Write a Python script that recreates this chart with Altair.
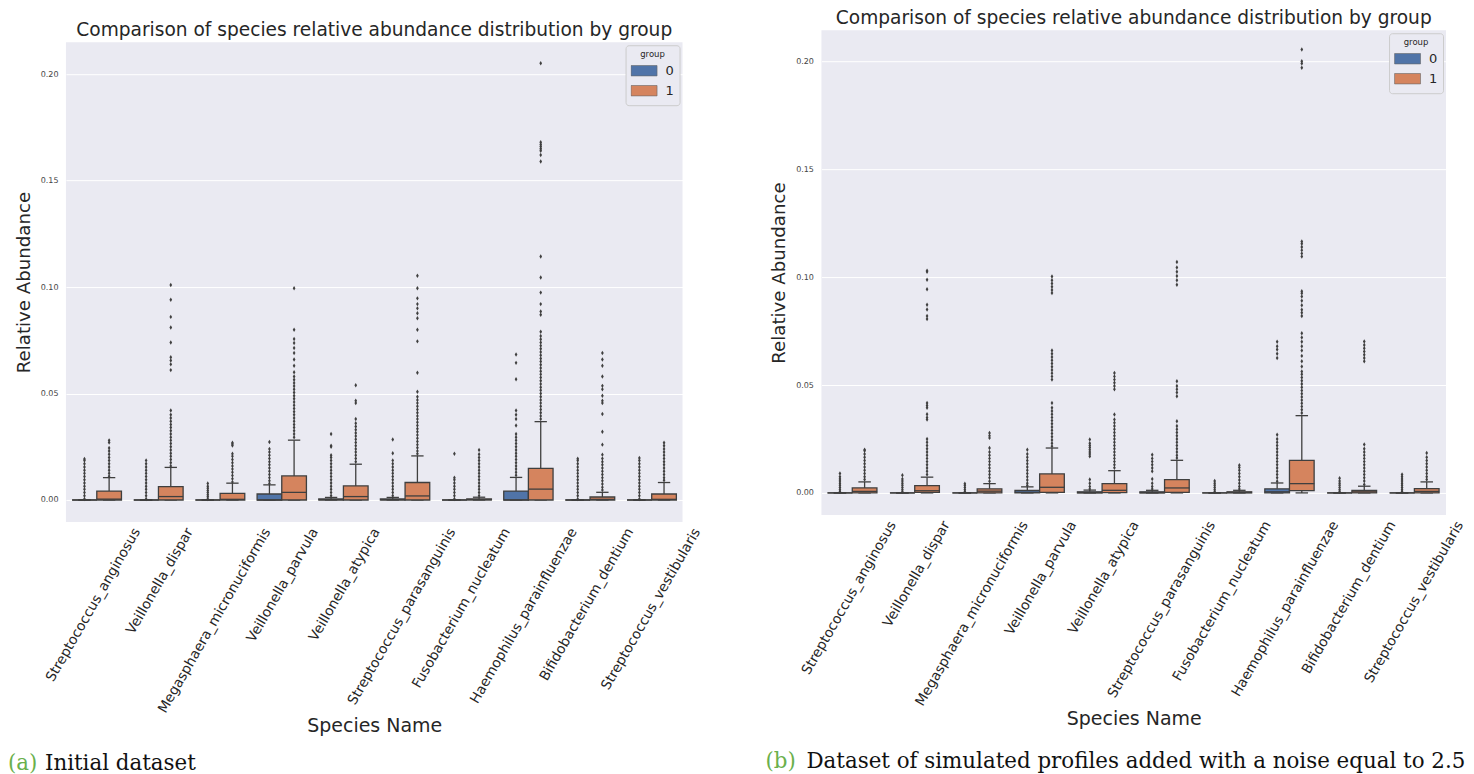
import altair as alt
import pandas as pd

SPECIES = ["Streptococcus_anginosus", "Veillonella_dispar", "Megasphaera_micronuciformis",
           "Veillonella_parvula", "Veillonella_atypica", "Streptococcus_parasanguinis",
           "Fusobacterium_nucleatum", "Haemophilus_parainfluenzae", "Bifidobacterium_dentium",
           "Streptococcus_vestibularis"]
GROUPS = ["0", "1"]
BOX_COLORS = ["#5074A8", "#D5845E"]
TITLE = "Comparison of species relative abundance distribution by group"
CAPTION_TAGS = ["(a)", "(b)"]
CAPTION_TEXTS = ["Initial dataset", "Dataset of simulated profiles added with a noise equal to 2.5"]
Y_TICKS = [0.0, 0.05, 0.10, 0.15, 0.20]

# ---------------- Panel (a): initial dataset ----------------
A0_Q1 = [0, 0, 0, 0, 0, 0, 0, 0, 0, 0]
A0_MED = [0, 0, 0, 0, 0.0001, 0.0001, 0, 0, 0, 0]
A0_Q3 = [0, 0, 0, 0.0028, 0.0005, 0.0005, 0, 0.0042, 0, 0]
A0_LO = [0, 0, 0, 0, 0, 0, 0, 0, 0, 0]
A0_HI = [0, 0, 0, 0.0071, 0.0012, 0.0012, 0, 0.0106, 0, 0]
A1_Q1 = [0, 0, 0, 0, 0, 0, 0, 0, 0, 0]
A1_MED = [0.0004, 0.0016, 0.0003, 0.0036, 0.0016, 0.0019, 0.0002, 0.0051, 0.0003, 0.0003]
A1_Q3 = [0.0042, 0.0063, 0.0031, 0.0113, 0.0066, 0.0082, 0.0005, 0.0148, 0.0014, 0.0028]
A1_LO = [0, 0, 0, 0, 0, 0, 0, 0, 0, 0]
A1_HI = [0.0105, 0.0153, 0.0079, 0.0281, 0.0168, 0.0207, 0.0013, 0.0368, 0.0036, 0.0082]

A0_OUT = [
    [0.0005, 0.002, 0.0035, 0.005, 0.0065, 0.008, 0.0095, 0.011, 0.0125, 0.014, 0.0155, 0.017, 0.0185, 0.0193],
    [0.0005, 0.002, 0.0035, 0.005, 0.0065, 0.008, 0.0095, 0.011, 0.0125, 0.014, 0.0155, 0.017, 0.0186],
    [0.0005, 0.0015, 0.0025, 0.0035, 0.0045, 0.0055, 0.0065, 0.0078],
    [0.0078, 0.009, 0.0105, 0.012, 0.0135, 0.015, 0.0165, 0.018, 0.0195, 0.021, 0.0225, 0.024, 0.0272],
    [0.002, 0.0035, 0.005, 0.0065, 0.008, 0.0095, 0.011, 0.0125, 0.014, 0.0155, 0.017, 0.0185, 0.02, 0.021,
     0.025, 0.0255, 0.031],
    [0.002, 0.0035, 0.005, 0.0065, 0.008, 0.0095, 0.011, 0.0125, 0.014, 0.0155, 0.017, 0.0186, 0.022, 0.0284],
    [0.0005, 0.002, 0.0035, 0.005, 0.0065, 0.008, 0.0095, 0.0105, 0.0217],
    [0.0116, 0.013, 0.0145, 0.016, 0.0175, 0.019, 0.0205, 0.022, 0.0235, 0.025, 0.0265, 0.028, 0.0295, 0.031,
     0.035, 0.038, 0.040, 0.042, 0.0567, 0.0644, 0.0683],
    [0.0005, 0.002, 0.0035, 0.005, 0.0065, 0.008, 0.0095, 0.011, 0.0125, 0.014, 0.0155, 0.017, 0.0185, 0.0194],
    [0.0005, 0.002, 0.0035, 0.005, 0.0065, 0.008, 0.0095, 0.011, 0.0125, 0.014, 0.0155, 0.017, 0.0185, 0.0197],
]
A1_OUT = [
    [0.0112, 0.0125, 0.014, 0.0155, 0.017, 0.0185, 0.02, 0.0215, 0.023, 0.0244, 0.027, 0.028],
    [0.016, 0.0175, 0.019, 0.0205, 0.022, 0.0235, 0.025, 0.0265, 0.028, 0.0295, 0.031, 0.0325, 0.034, 0.0355,
     0.037, 0.0385, 0.04, 0.042, 0.061, 0.0637, 0.0655, 0.067, 0.074, 0.081, 0.086, 0.094, 0.101],
    [0.0085, 0.01, 0.0115, 0.013, 0.0145, 0.016, 0.0175, 0.019, 0.0205, 0.0217, 0.0256, 0.0263, 0.0269],
    [0.0295, 0.031, 0.0325, 0.034, 0.0355, 0.037, 0.0385, 0.04, 0.0415, 0.043, 0.0445, 0.046, 0.0475, 0.049,
     0.0505, 0.052, 0.0535, 0.055, 0.0565, 0.058, 0.060, 0.063, 0.066, 0.069, 0.0714, 0.0737, 0.0756, 0.080,
     0.0995],
    [0.018, 0.0195, 0.021, 0.0225, 0.024, 0.0255, 0.027, 0.0285, 0.03, 0.0315, 0.033, 0.0345, 0.036, 0.038,
     0.0455, 0.0466, 0.0539],
    [0.0217, 0.023, 0.0245, 0.026, 0.0275, 0.029, 0.0305, 0.032, 0.0335, 0.035, 0.0365, 0.038, 0.0395, 0.041,
     0.0425, 0.044, 0.0455, 0.047, 0.0485, 0.0508, 0.0598, 0.0745, 0.080, 0.0854, 0.0877, 0.090, 0.092, 0.0947,
     0.0994, 0.1053],
    [0.002, 0.0035, 0.005, 0.0065, 0.008, 0.0095, 0.011, 0.0125, 0.014, 0.0155, 0.017, 0.0185, 0.02, 0.0215,
     0.0235],
    [0.038, 0.0395, 0.041, 0.0425, 0.044, 0.0455, 0.047, 0.0485, 0.05, 0.0515, 0.053, 0.0545, 0.056, 0.0575,
     0.059, 0.0605, 0.062, 0.0635, 0.065, 0.0665, 0.068, 0.0695, 0.071, 0.0725, 0.074, 0.0755, 0.077, 0.079,
     0.087, 0.0885, 0.092, 0.0974, 0.1045, 0.1144, 0.159, 0.162, 0.164, 0.165, 0.166, 0.167, 0.168, 0.2051],
    [0.0047, 0.006, 0.0075, 0.009, 0.0105, 0.012, 0.0135, 0.015, 0.0165, 0.018, 0.0195, 0.0213, 0.026, 0.032,
     0.0404, 0.0455, 0.0466, 0.049, 0.052, 0.0536, 0.058, 0.063, 0.066, 0.069],
    [0.0093, 0.0105, 0.012, 0.0135, 0.015, 0.0165, 0.018, 0.0195, 0.021, 0.0225, 0.024, 0.0255, 0.0269],
]

# ---------------- Panel (b): simulated profiles, noise 2.5 ----------------
B0_Q1 = [0, 0, 0, 0, 0, 0, 0, 0, 0, 0]
B0_MED = [0, 0, 0, 0.0003, 0.0001, 0.0001, 0, 0.0005, 0, 0]
B0_Q3 = [0, 0, 0, 0.0012, 0.0005, 0.0005, 0, 0.0019, 0, 0]
B0_LO = [0, 0, 0, 0, 0, 0, 0, 0, 0, 0]
B0_HI = [0, 0, 0, 0.0028, 0.0013, 0.0012, 0, 0.0046, 0, 0]
B1_Q1 = [0, 0.0002, 0, 0.0002, 0.0001, 0.0002, 0, 0.0011, 0, 0]
B1_MED = [0.0007, 0.001, 0.0008, 0.0026, 0.0012, 0.0023, 0.0002, 0.0043, 0.0005, 0.0007]
B1_Q3 = [0.0023, 0.0034, 0.0019, 0.0088, 0.0043, 0.0062, 0.0005, 0.0151, 0.0012, 0.002]
B1_LO = [0, 0, 0, 0, 0, 0, 0, 0, 0, 0]
B1_HI = [0.0051, 0.0073, 0.0043, 0.0208, 0.0103, 0.0151, 0.0012, 0.0358, 0.0031, 0.0051]

B0_OUT = [
    [0.0005, 0.0015, 0.0025, 0.0035, 0.0045, 0.0055, 0.0065, 0.0075, 0.009],
    [0.0005, 0.0015, 0.0025, 0.0035, 0.0045, 0.0055, 0.0065, 0.0082],
    [0.0005, 0.0015, 0.0025, 0.0035, 0.0043],
    [0.0034, 0.0045, 0.006, 0.0075, 0.009, 0.0105, 0.012, 0.0135, 0.015, 0.0165, 0.018, 0.020],
    [0.0018, 0.003, 0.0045, 0.0062, 0.017, 0.018, 0.019, 0.02, 0.021, 0.022, 0.023, 0.0247],
    [0.0018, 0.003, 0.0045, 0.0064, 0.01, 0.0115, 0.013, 0.0145, 0.016, 0.0177],
    [0.0005, 0.0015, 0.0025, 0.0035, 0.0045, 0.0055],
    [0.0054, 0.007, 0.0085, 0.01, 0.0115, 0.013, 0.0145, 0.016, 0.0175, 0.019, 0.0205, 0.022, 0.0235, 0.025,
     0.027, 0.0625, 0.0645, 0.0665, 0.068, 0.070],
    [0.0005, 0.0015, 0.0025, 0.0035, 0.0045, 0.0055, 0.0068],
    [0.0005, 0.0015, 0.0025, 0.0035, 0.0045, 0.0055, 0.0065, 0.0075, 0.0085],
]
B1_OUT = [
    [0.0062, 0.0075, 0.009, 0.0105, 0.012, 0.0135, 0.015, 0.0165, 0.018, 0.0195, 0.020],
    [0.0085, 0.01, 0.0115, 0.013, 0.0145, 0.016, 0.0175, 0.019, 0.0205, 0.022, 0.0235, 0.025, 0.034, 0.035,
     0.0365, 0.0395, 0.0405, 0.0417, 0.0806, 0.082, 0.085, 0.0872, 0.0944, 0.0988, 0.1025, 0.103],
    [0.0054, 0.007, 0.0085, 0.01, 0.0115, 0.013, 0.0145, 0.016, 0.0175, 0.019, 0.0208, 0.0255, 0.0265, 0.0278],
    [0.0216, 0.023, 0.0245, 0.026, 0.0275, 0.029, 0.0305, 0.032, 0.0335, 0.035, 0.0365, 0.038, 0.0395, 0.0417,
     0.0525, 0.054, 0.0555, 0.057, 0.0585, 0.06, 0.0615, 0.063, 0.0645, 0.066, 0.0926, 0.094, 0.0955, 0.097,
     0.0985, 0.1003],
    [0.0116, 0.013, 0.0145, 0.016, 0.0175, 0.019, 0.0205, 0.022, 0.0235, 0.025, 0.0265, 0.028, 0.0295, 0.031,
     0.0325, 0.034, 0.0363, 0.048, 0.0495, 0.051, 0.0525, 0.054, 0.0556],
    [0.0162, 0.0175, 0.019, 0.0205, 0.022, 0.0235, 0.025, 0.0265, 0.028, 0.0295, 0.031, 0.0332, 0.0448, 0.0465,
     0.048, 0.0495, 0.0517, 0.0965, 0.0985, 0.1005, 0.1025, 0.1045, 0.107],
    [0.0018, 0.003, 0.0045, 0.006, 0.0075, 0.009, 0.0105, 0.0118, 0.0128],
    [0.037, 0.0385, 0.04, 0.0415, 0.043, 0.0445, 0.046, 0.0475, 0.049, 0.0505, 0.052, 0.0535, 0.055, 0.0563,
     0.0586, 0.061, 0.0635, 0.066, 0.068, 0.070, 0.072, 0.074, 0.082, 0.0835, 0.0849, 0.087, 0.089, 0.091,
     0.0925, 0.0934, 0.1096, 0.111, 0.1125, 0.114, 0.1155, 0.1165, 0.197, 0.199, 0.200, 0.2055],
    [0.0039, 0.0055, 0.007, 0.0085, 0.01, 0.0115, 0.013, 0.0145, 0.016, 0.0175, 0.019, 0.0205, 0.0224, 0.061,
     0.0625, 0.064, 0.0655, 0.067, 0.0685, 0.0702],
    [0.0062, 0.0075, 0.009, 0.0105, 0.012, 0.0135, 0.015, 0.0165, 0.0185],
]

EDGE = "#3F3F3F"
TEXT = "#262626"
BG = "#EAEAF2"
SANS = "DejaVu Sans"
SERIF = "DejaVu Serif"
FLIER = "M0,-1L0.6,0L0,1L-0.6,0Z"
RECT = "M-1,-0.4H1V0.4H-1Z"


def box_frame(stats0, stats1):
    rows = []
    for g, stats in enumerate([stats0, stats1]):
        q1, med, q3, lo, hi = stats
        for i, sp in enumerate(SPECIES):
            rows.append({"species": sp, "group": GROUPS[g], "q1": q1[i], "med": med[i],
                         "q3": q3[i], "lo": lo[i], "hi": hi[i]})
    return pd.DataFrame(rows)


def out_frame(out0, out1):
    rows = []
    for g, outs in enumerate([out0, out1]):
        for i, sp in enumerate(SPECIES):
            for v in outs[i]:
                rows.append({"species": sp, "group": GROUPS[g], "value": v})
    return pd.DataFrame(rows)


def panel(box_df, out_df, width, height, ydom, idx, tag_x, text_x, cap_y):
    band = width / len(SPECIES)
    boxw = band * 0.4
    x_axis = alt.Axis(title="Species Name", labelAngle=-60, labelAlign="right", labelBaseline="middle",
                      labelOffset={"expr": "length(datum.label) * 1.75"}, labelPadding=7,
                      labelFontSize=13.8, labelColor=TEXT, labelFont=SANS, labelOverlap=False,
                      titleFontSize=19, titleFontWeight="normal", titleColor=TEXT, titleFont=SANS,
                      titlePadding=2, ticks=False, domain=False, grid=False, labelLimit=400)
    y_axis = alt.Axis(title="Relative Abundance", values=Y_TICKS, format=".2f", labelFontSize=8,
                      labelColor="#444444", labelFont=SANS, labelPadding=8, titleFontSize=18.2,
                      titleFontWeight="normal", titleColor=TEXT, titleFont=SANS, titlePadding=7,
                      ticks=False, domain=False, grid=True, gridColor="white", gridWidth=1)
    xs = alt.Scale(domain=SPECIES, paddingInner=0, paddingOuter=0)
    x = alt.X("species:N", sort=SPECIES, scale=xs, axis=x_axis)
    xo = alt.XOffset("group:N", scale=alt.Scale(domain=GROUPS, paddingInner=0, paddingOuter=0.25))
    ys = alt.Scale(domain=ydom, nice=False, zero=False)

    def Y(f):
        return alt.Y(f, scale=ys, axis=y_axis)

    base = alt.Chart(box_df)
    whisk_hi = base.mark_rule(color=EDGE, strokeWidth=1.3).encode(x=x, xOffset=xo, y=Y("q3:Q"), y2="hi:Q")
    whisk_lo = base.mark_rule(color=EDGE, strokeWidth=1.3).encode(x=x, xOffset=xo, y=Y("lo:Q"), y2="q1:Q")
    cap_hi = base.mark_tick(color=EDGE, size=boxw / 2, thickness=1.3, opacity=1).encode(
        x=x, xOffset=xo, y=Y("hi:Q"))
    cap_lo = base.mark_tick(color=EDGE, size=boxw / 2, thickness=1.3, opacity=1).encode(
        x=x, xOffset=xo, y=Y("lo:Q"))
    boxes = base.mark_bar(stroke=EDGE, strokeWidth=1.3, opacity=1).encode(
        x=x, xOffset=xo, y=Y("q1:Q"), y2="q3:Q",
        color=alt.Color("group:N", scale=alt.Scale(domain=GROUPS, range=BOX_COLORS),
                        legend=alt.Legend(title="group", orient="top-right", offset=3,
                                          titleFontSize=8.5, titleFontWeight="normal", titleColor=TEXT,
                                          titleFont=SANS, titleAnchor="middle", labelFontSize=13,
                                          labelColor=TEXT, labelFont=SANS, symbolType=RECT,
                                          symbolSize=676, symbolStrokeColor="#666666",
                                          symbolStrokeWidth=0.6, symbolOpacity=1, clipHeight=18,
                                          rowPadding=2, fillColor=BG, strokeColor="#CCCCCC",
                                          cornerRadius=3, padding=5, titlePadding=3, labelOffset=8)))
    medians = base.mark_tick(color=EDGE, size=boxw, thickness=1.3, opacity=1).encode(
        x=x, xOffset=xo, y=Y("med:Q"))
    fliers = alt.Chart(out_df).mark_point(shape=FLIER, filled=True, size=20, color=EDGE, opacity=1).encode(
        x=x, xOffset=xo, y=Y("value:Q"))

    cap_df = pd.DataFrame({"tag": [CAPTION_TAGS[idx]], "text": [CAPTION_TEXTS[idx]]})
    cap_tag = alt.Chart(cap_df).mark_text(align="left", baseline="alphabetic", font=SERIF, fontSize=21.4,
                                          color="#6AB04C").encode(
        x=alt.value(tag_x), y=alt.value(cap_y), text="tag:N")
    cap_text = alt.Chart(cap_df).mark_text(align="left", baseline="alphabetic", font=SERIF, fontSize=21.4,
                                           color="#111111").encode(
        x=alt.value(text_x), y=alt.value(cap_y), text="text:N")

    return alt.layer(whisk_hi, whisk_lo, cap_hi, cap_lo, boxes, medians, fliers, cap_tag, cap_text).properties(
        width=width, height=height,
        title=alt.TitleParams(TITLE, fontSize=18.6, fontWeight="normal", color=TEXT, font=SANS, offset=3),
        view=alt.ViewBackground(fill=BG, strokeWidth=0),
    )


panel_a = panel(box_frame((A0_Q1, A0_MED, A0_Q3, A0_LO, A0_HI), (A1_Q1, A1_MED, A1_Q3, A1_LO, A1_HI)),
                out_frame(A0_OUT, A1_OUT), 617, 480, [-0.0103, 0.2150], 0, -58, -21, 728)
panel_b = panel(box_frame((B0_Q1, B0_MED, B0_Q3, B0_LO, B0_HI), (B1_Q1, B1_MED, B1_Q3, B1_LO, B1_HI)),
                out_frame(B0_OUT, B1_OUT), 625, 485, [-0.0102, 0.2144], 1, -56, -15, 738)

# invisible spacer: lowers panel (a) by 10 px relative to panel (b)
spacer = alt.Chart(pd.DataFrame({"v": [0]})).mark_point(opacity=0).encode(
    x=alt.value(0), y=alt.value(0)).properties(
    width=1, height=1, view=alt.ViewBackground(fill="transparent", stroke="transparent", strokeWidth=0))

left = alt.vconcat(spacer, panel_a, spacing=-13).resolve_scale(color="independent").resolve_legend(
    color="independent")

chart = alt.hconcat(left, panel_b, spacing=62).resolve_scale(
    color="independent", x="independent", y="independent"
).resolve_legend(color="independent").properties(
    padding={"left": 0, "top": 0, "right": 0, "bottom": 0}
).configure_view(strokeWidth=0).configure(background="white")

chart.save("out.html", embed_options={"renderer": "svg", "actions": False})
